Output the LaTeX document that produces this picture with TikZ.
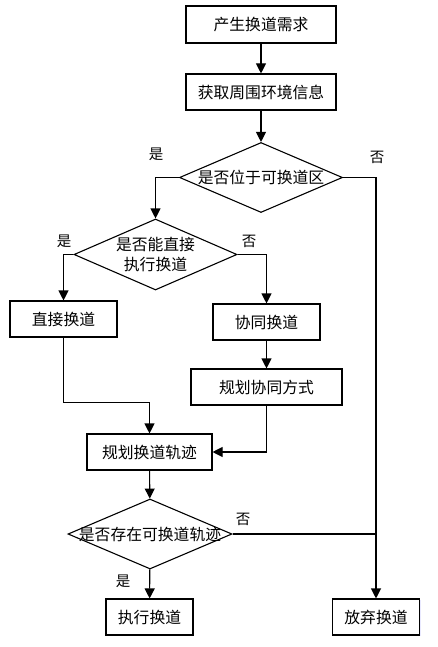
\documentclass[tikz,border=0pt]{standalone}
\usepackage{fontspec}
\setmainfont{Noto Sans CJK SC}
\usetikzlibrary{arrows.meta,shapes.geometric,shadows}

\begin{document}
\begin{tikzpicture}[x=1pt, y=-1pt,
    font=\fontsize{15.8}{18}\selectfont,
    procbox/.style={draw, line width=1.1pt, fill=white, inner sep=0pt,
        drop shadow={shadow xshift=1.2pt, shadow yshift=-1.2pt, fill=blue!25, opacity=0.35}},
    decbox/.style={draw, line width=1.1pt, shape=diamond, inner sep=0pt, fill=white,
        minimum width=163pt, minimum height=70pt},
    arr/.style={line width=1.1pt, -{Triangle[length=10pt,width=10pt]}},
    ln/.style={line width=1.1pt},
    lbl/.style={font=\fontsize{14.5}{16}\selectfont}]
    \useasboundingbox (0,0) rectangle (437,647);

    \node[procbox, minimum width=150pt, minimum height=37pt] (need) at (261,24.5) {产生换道需求};
    \node[procbox, minimum width=150pt, minimum height=36pt] (info) at (261,92) {获取周围环境信息};
    \node[decbox] (zone) at (261,177.5) {\makebox[0pt]{是否位于可换道区}};
    \node[decbox, minimum height=71pt] (direct) at (155.5,254.5)
        {\makebox[0pt]{\shortstack{是否能直接\\[2pt]执行换道}}};
    \node[procbox, minimum width=107pt, minimum height=36pt] (dlc) at (63.5,319) {直接换道};
    \node[procbox, minimum width=107pt, minimum height=36pt] (coop) at (266.5,322) {协同换道};
    \node[procbox, minimum width=151pt, minimum height=36pt] (mode) at (266.5,387) {规划协同方式};
    \node[procbox, minimum width=125pt, minimum height=36pt] (traj) at (149.5,452) {规划换道轨迹};
    \node[decbox, minimum width=164pt] (exist) at (150,534) {\makebox[0pt]{是否存在可换道轨迹}};
    \node[procbox, minimum width=87pt, minimum height=36pt] (exec) at (149.5,617) {执行换道};
    \node[procbox, minimum width=87pt, minimum height=36pt] (quit) at (376,617) {放弃换道};

    \draw[arr] (need) -- (info);
    \draw[arr] (info) -- (zone);
    \draw[arr] (zone.west) -| (direct.north);
    \draw[arr] (zone.east) -| (quit.north);
    \draw[arr] (direct.west) -| (dlc.north);
    \draw[arr] (direct.east) -| (coop.north);
    \draw[arr] (coop) -- (mode);
    \coordinate (bend) at (63.5,402.5);
    \draw[arr] (dlc.south) -- (bend) -| (traj.north);
    \draw[arr] (mode.south) |- (traj.east);
    \draw[arr] (traj) -- (exist);
    \draw[arr] (exist) -- (exec);
    \draw[ln] (exist.east) -- (exist.east -| quit);

    \node[lbl] (y1) at (156,154) {是};
    \node[lbl] (n1) at (377,157) {否};
    \node[lbl] (y2) at (64,241) {是};
    \node[lbl] (n2) at (249,241) {否};
    \node[lbl] (n3) at (243,519) {否};
    \node[lbl] (y3) at (123,581) {是};
\end{tikzpicture}
\end{document}
